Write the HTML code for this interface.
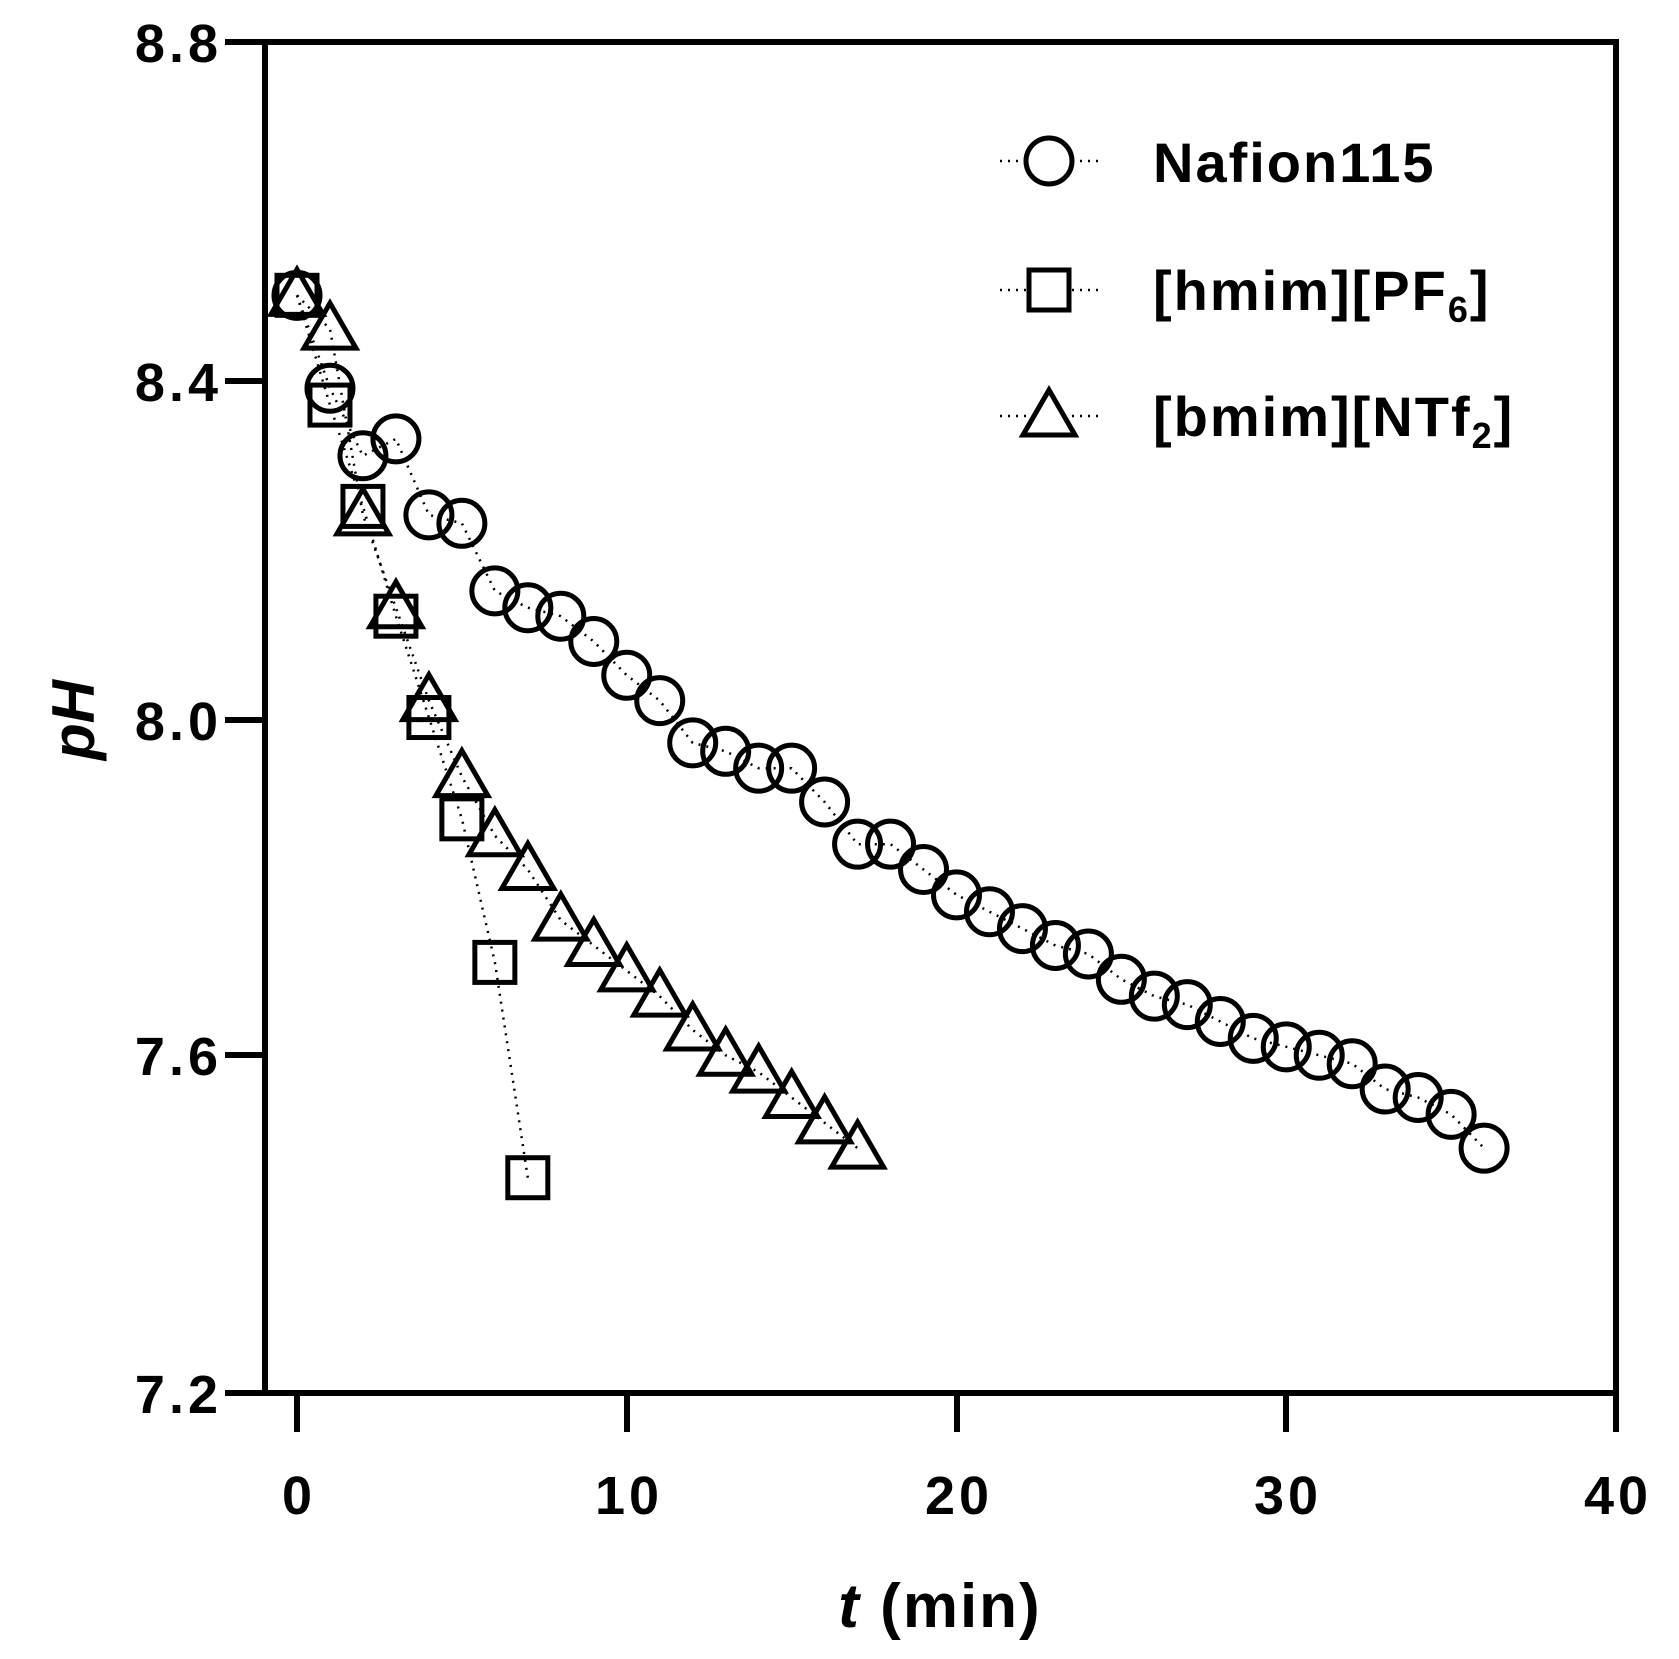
<!DOCTYPE html>
<html><head><meta charset="utf-8"><style>
html,body{margin:0;padding:0;background:#fff;}
svg{display:block;}
text{font-family:"Liberation Sans",sans-serif;font-weight:bold;fill:#000;}
</style></head><body>
<svg id="s" width="1679" height="1659" viewBox="0 0 1679 1659" xmlns="http://www.w3.org/2000/svg">
<g stroke="#000" stroke-width="6" fill="none" stroke-linecap="butt">
<path d="M265 42 H1616 V1393 H265 Z"/>
<path d="M225 42 H265 M225 381 H265 M225 720 H265 M225 1055 H265 M225 1393 H265"/>
<path d="M297 1393 V1432 M627 1393 V1432 M957 1393 V1432 M1286 1393 V1432 M1616 1393 V1432"/>
</g>
<g font-size="54" text-anchor="end" letter-spacing="4">
<text x="222" y="62">8.8</text>
<text x="222" y="401">8.4</text>
<text x="222" y="740">8.0</text>
<text x="222" y="1075">7.6</text>
<text x="222" y="1413">7.2</text>
</g>
<g font-size="54" text-anchor="middle" letter-spacing="4">
<text x="299" y="1514">0</text>
<text x="629" y="1514">10</text>
<text x="959" y="1514">20</text>
<text x="1288" y="1514">30</text>
<text x="1618" y="1514">40</text>
</g>
<text x="940" y="1627" font-size="62" text-anchor="middle" letter-spacing="2"><tspan font-style="italic">t</tspan> (min)</text>
<text transform="translate(94,720) rotate(-90)" font-size="60" text-anchor="middle" font-style="italic">pH</text>
<g font-size="56" letter-spacing="2">
<text x="1153" y="182">Nafion115</text>
<text x="1153" y="310">[hmim][PF<tspan font-size="36" dy="12">6</tspan><tspan dy="-12">]</tspan></text>
<text x="1153" y="436">[bmim][NTf<tspan font-size="36" dy="12">2</tspan><tspan dy="-12">]</tspan></text>
</g>
<g id="g"></g>
</svg>
<script>
var X=function(t){return 297+32.975*t;},Y=function(p){return 42+(8.8-p)*844.4;};
var c=[8.5,8.39,8.31,8.33,8.24,8.23,8.15,8.13,8.12,8.09,8.05,8.02,7.97,7.96,7.94,7.94,7.90,7.85,7.85,7.82,7.79,7.77,7.75,7.73,7.72,7.69,7.67,7.66,7.64,7.62,7.61,7.60,7.59,7.56,7.55,7.53,7.49];
var s=[8.5,8.37,8.25,8.12,8.0,7.88,7.71,7.455];
var tr=[8.5,8.46,8.24,8.13,8.02,7.93,7.86,7.82,7.76,7.73,7.70,7.67,7.63,7.60,7.58,7.55,7.52,7.49];
var h='';
function line(a){var d='';a.forEach(function(p,i){d+=(i?'L':'M')+X(i).toFixed(1)+' '+Y(p).toFixed(1);});return '<path d="'+d+'" stroke="#000" stroke-width="2.5" stroke-dasharray="2 6" fill="none"/>';}
h+=line(c)+line(s)+line(tr);
c.forEach(function(p,i){h+='<circle cx="'+X(i)+'" cy="'+Y(p)+'" r="23" fill="none" stroke="#000" stroke-width="5"/>';});
s.forEach(function(p,i){h+='<rect x="'+(X(i)-20)+'" y="'+(Y(p)-20)+'" width="40" height="40" fill="none" stroke="#000" stroke-width="5"/>';});
tr.forEach(function(p,i){var x=X(i),y=Y(p);h+='<path d="M'+x+' '+(y-26)+'L'+(x+26)+' '+(y+19)+'L'+(x-26)+' '+(y+19)+'Z" fill="none" stroke="#000" stroke-width="5" stroke-linejoin="miter"/>';});
h+='<path d="M1000 161H1100M1000 290H1100M1000 416H1100" stroke="#000" stroke-width="2.5" stroke-dasharray="2 6"/>';
h+='<circle cx="1049" cy="161" r="23" fill="#fff" stroke="#000" stroke-width="5"/>';
h+='<rect x="1029" y="270" width="40" height="40" fill="#fff" stroke="#000" stroke-width="5"/>';
h+='<path d="M1049 390L1075 435L1023 435Z" fill="#fff" stroke="#000" stroke-width="5"/>';
document.getElementById('g').innerHTML=h;
</script>
</body></html>
